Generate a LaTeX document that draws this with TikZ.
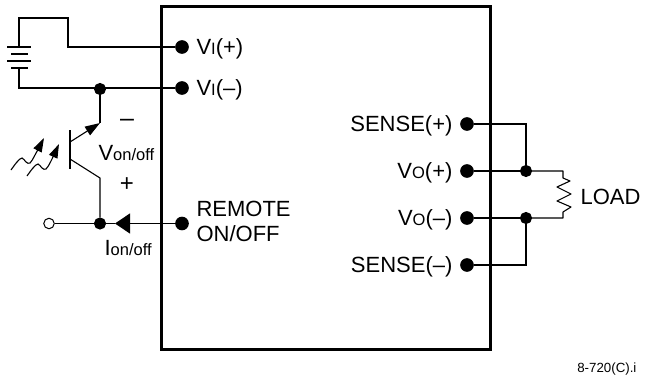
\documentclass[tikz,border=0pt]{standalone}
\usepackage{fontspec}
\setmainfont{Liberation Sans}
\usetikzlibrary{calc,arrows.meta,positioning}
\tikzstyle{wire}=[line width=1.1pt]
\tikzstyle{jdot}=[draw,fill=black,circle,minimum size=11pt,inner sep=0pt]
\tikzstyle{tdot}=[draw,fill=black,circle,minimum size=12.5pt,inner sep=0pt]
\tikzstyle{odot}=[draw,fill=white,circle,line width=1pt,minimum size=10.5pt,inner sep=0pt]
\tikzstyle{chassis}=[draw,line width=3pt,minimum width=329pt,minimum height=343pt,inner sep=0pt]
\tikzstyle{lbl}=[inner sep=0pt,font=\fontsize{22}{25}\selectfont]
\newcommand{\subtxt}[1]{{\fontsize{16.5}{20}\selectfont #1}}

\begin{document}
\begin{tikzpicture}[x=1pt,y=-1pt,wire]
\useasboundingbox (0,0) rectangle (649,381);
\draw (325.5,177.5) node [chassis] (n0) {};
% input side
\draw (182,47) node [tdot] (vip) {};
\draw (182,88) node [tdot] (vim) {};
\draw (100,89) node [jdot] (j1) {};
\draw (100,223.5) node [jdot] (j2) {};
\draw (182,223.5) node [tdot] (rem) {};
\draw (49,223.5) node [odot] (oc) {};
\draw (196,48.5) node [lbl,anchor=west] (lvip) {V\subtxt{I}(+)};
\draw (196,89.5) node [lbl,anchor=west] (lvim) {V\subtxt{I}(–)};
\draw (196,221) node [lbl,anchor=west,align=left] (lrem) {REMOTE\\ON/OFF};
% battery
\coordinate (b1) at (19,47);
\coordinate (b2) at (19,68);
\draw (b1) -- (19,18) -- (68,18) -- (68,47) -- (vip);
\draw (b2) -- (19,88) -- (vim);
\draw[line width=1.5pt] (7,47) -- (31,47);
\draw[line width=1.5pt] (11,54) -- (28,54);
\draw[line width=1.5pt] (7,61) -- (31,61);
\draw[line width=1.5pt] (11,68) -- (28,68);
% transistor
\coordinate (em) at (100,123);
\coordinate (co) at (100,178);
\draw (j1) -- (em);
\draw[-{Triangle[length=15pt,width=10pt]}] (70,142) -- (em);
\draw (70,130) -- (70,169);
\draw (70,159) -- (co) -- (j2);
\draw (oc) -- (j2);
\draw[-{Triangle[length=15pt,width=20pt]}] (rem) -- (115,223.5);
\draw (115,223.5) -- (j2);
\draw[-{Triangle[length=14pt,width=9pt]}] plot[smooth,tension=0.6] coordinates {(11,170) (17,162) (22,158) (26,162) (30,163) (35,155) (44,138)};
\draw[-{Triangle[length=14pt,width=9pt]}] plot[smooth,tension=0.6] coordinates {(27,176) (33,168) (38,164) (42,168) (46,169) (51,161) (59,144)};
\draw (127,123) node [lbl,font=\fontsize{25}{25}\selectfont] (lm) {–};
\draw (127,185) node [lbl,font=\fontsize{24}{25}\selectfont] (lp) {+};
\draw (98,153) node [lbl,anchor=west] (lvon) {V\subtxt{on/off}};
\draw (104,248) node [lbl,anchor=west] (lion) {I\subtxt{on/off}};
% output side
\draw (467,124) node [tdot] (sp) {};
\draw (467,171) node [tdot] (vop) {};
\draw (467,218) node [tdot] (vom) {};
\draw (467,265) node [tdot] (sm) {};
\draw (526,171) node [jdot] (j3) {};
\draw (526,218) node [jdot] (j4) {};
\draw (453,125.5) node [lbl,anchor=east] (lsp) {SENSE(+)};
\draw (453,172.5) node [lbl,anchor=east] (lvop) {V\subtxt{O}(+)};
\draw (453,219.5) node [lbl,anchor=east] (lvom) {V\subtxt{O}(–)};
\draw (453,266.5) node [lbl,anchor=east] (lsm) {SENSE(–)};
\draw (sp) -- (526,124) -- (j3);
\draw (sm) -- (526,265) -- (j4);
\draw (vop) -- (j3);
\draw (vom) -- (j4);
\coordinate (r1) at (563,171);
\coordinate (r2) at (563,218);
\draw[line join=round] (j3) -- (r1) -- (563,178) -- (570,181) -- (557,187) -- (571,194) -- (557,201) -- (571,207) -- (563,212) -- (r2) -- (j4);
\draw (580,197) node [lbl,anchor=west] (lload) {LOAD};
\draw (637,369) node [lbl,anchor=east,font=\fontsize{13.3}{15}\selectfont] (lref) {8-720(C).i};
\end{tikzpicture}
\end{document}
